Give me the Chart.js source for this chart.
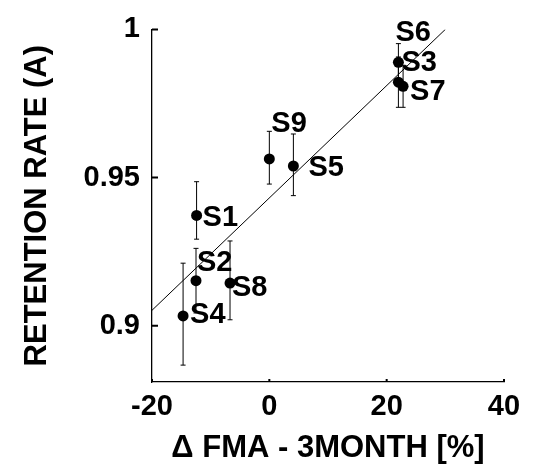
<!doctype html>
<html lang="en">
  <head>
    <meta charset="utf-8">
    <title>Retention rate vs FMA</title>
    <style>
      body { margin: 0; background: #fff; }
    </style>
  </head>
  <body>
    <canvas id="retentionChart" width="533" height="465"></canvas>

    <script src="https://cdn.jsdelivr.net/npm/chart.js"></script>

    <script>
        // Dados dos sujeitos
        const subjects = ['S1', 'S2', 'S3', 'S4', 'S5', 'S6', 'S7', 'S8', 'S9'];
        const fmaChange = [-12.4, -12.5, 22.0, -14.7, 4.1, 22.0, 22.8, -6.7, 0.0];
        const retention = [0.9372, 0.9152, 0.9889, 0.9033, 0.9539, 0.9822, 0.9808, 0.9144, 0.9563];
        const retentionLow = [0.9292, 0.9043, 0.9826, 0.8867, 0.9439, 0.9737, 0.9737, 0.9020, 0.9478];
        const retentionHigh = [0.9486, 0.9261, 0.9952, 0.9211, 0.9647, 0.9907, 0.9879, 0.9286, 0.9656];

        // Reta de regressao
        const fitX = [-20, 30];
        const fitY = [0.9052, 1.0];

        const xTicks = [-20, 0, 20, 40];
        const yTicks = [0.9, 0.95, 1];

        const fontFamily = "'Liberation Sans', Arial, sans-serif";

        // posicao dos rotulos em relacao ao ponto
        const labelOffsets = {
            S1: [6, 0], S2: [1, -20], S3: [3, -2], S4: [7, -3], S5: [15, 0],
            S6: [-3, -52], S7: [7, 3], S8: [2, 2], S9: [2, -37]
        };

        const errorBars = {
            id: 'errorBars',
            beforeDatasetsDraw(chart) {
                const ctx = chart.ctx;
                const xs = chart.scales.x;
                const ys = chart.scales.y;
                ctx.save();
                ctx.strokeStyle = '#000';
                ctx.lineWidth = 1;
                for (let i = 0; i < subjects.length; i++) {
                    const px = xs.getPixelForValue(fmaChange[i]);
                    const lo = ys.getPixelForValue(retentionLow[i]);
                    const hi = ys.getPixelForValue(retentionHigh[i]);
                    ctx.beginPath();
                    ctx.moveTo(px, lo); ctx.lineTo(px, hi);
                    ctx.moveTo(px - 2.5, lo); ctx.lineTo(px + 2.5, lo);
                    ctx.moveTo(px - 2.5, hi); ctx.lineTo(px + 2.5, hi);
                    ctx.stroke();
                }
                ctx.restore();
            }
        };

        const pointLabels = {
            id: 'pointLabels',
            afterDatasetsDraw(chart) {
                const ctx = chart.ctx;
                const xs = chart.scales.x;
                const ys = chart.scales.y;
                ctx.save();
                ctx.fillStyle = '#000';
                ctx.font = 'bold 29px ' + fontFamily;
                ctx.textAlign = 'left';
                ctx.textBaseline = 'alphabetic';
                for (let i = 0; i < subjects.length; i++) {
                    const off = labelOffsets[subjects[i]];
                    const px = xs.getPixelForValue(fmaChange[i]) + off[0];
                    const py = ys.getPixelForValue(retention[i]) + off[1] + 10.5;
                    ctx.fillText(subjects[i], px, py);
                }
                ctx.restore();
            }
        };

        // marcas dos eixos para dentro
        const innerTicks = {
            id: 'innerTicks',
            afterDraw(chart) {
                const ctx = chart.ctx;
                const xs = chart.scales.x;
                const ys = chart.scales.y;
                const area = chart.chartArea;
                ctx.save();
                ctx.strokeStyle = '#000';
                ctx.lineWidth = 2;
                ctx.beginPath();
                yTicks.forEach(v => {
                    const py = ys.getPixelForValue(v);
                    ctx.moveTo(area.left, py); ctx.lineTo(area.left + 6, py);
                });
                xTicks.forEach(v => {
                    const px = xs.getPixelForValue(v);
                    ctx.moveTo(px, area.bottom); ctx.lineTo(px, area.bottom - 3);
                });
                ctx.stroke();
                ctx.restore();
            }
        };

        const retentionChart = new Chart(document.getElementById('retentionChart'), {
            type: 'scatter',
            data: {
                datasets: [{
                    type: 'line',
                    data: fitX.map((x, i) => ({x: x, y: fitY[i]})),
                    borderColor: '#000',
                    borderWidth: 1,
                    pointRadius: 0,
                    fill: false
                }, {
                    data: fmaChange.map((x, i) => ({x: x, y: retention[i]})),
                    backgroundColor: '#000',
                    borderWidth: 0,
                    pointRadius: 5.5
                }]
            },
            options: {
                responsive: false,
                animation: false,
                devicePixelRatio: 1,
                layout: { padding: { top: 25, right: 29, left: 0, bottom: 0 } },
                plugins: {
                    legend: { display: false },
                    tooltip: { enabled: false }
                },
                scales: {
                    x: {
                        type: 'linear',
                        min: -20,
                        max: 40,
                        afterBuildTicks: s => { s.ticks = xTicks.map(v => ({value: v})); },
                        afterFit: s => { s.height = 83; },
                        grid: { display: false, drawTicks: false },
                        border: { display: true, color: '#000', width: 1.3 },
                        ticks: {
                            color: '#000',
                            padding: 8,
                            maxRotation: 0,
                            font: { family: fontFamily, size: 29, weight: 'bold' },
                            callback: v => String(v)
                        },
                        title: {
                            display: true,
                            text: 'Δ FMA - 3MONTH [%]',
                            color: '#000',
                            padding: { top: 0, bottom: 0 },
                            font: { family: fontFamily, size: 31, weight: 'bold', lineHeight: 1.08 }
                        }
                    },
                    y: {
                        type: 'linear',
                        min: 0.881,
                        max: 1,
                        afterBuildTicks: s => { s.ticks = yTicks.map(v => ({value: v})); },
                        afterFit: s => { s.width = 152; },
                        grid: { display: false, drawTicks: false },
                        border: { display: true, color: '#000', width: 1.3 },
                        ticks: {
                            color: '#000',
                            padding: 12,
                            font: { family: fontFamily, size: 29, weight: 'bold' },
                            callback: v => String(v)
                        },
                        title: {
                            display: true,
                            text: 'RETENTION RATE (A)',
                            color: '#000',
                            padding: { top: 19, bottom: 0 },
                            font: { family: fontFamily, size: 31, weight: 'bold' }
                        }
                    }
                }
            },
            plugins: [errorBars, pointLabels, innerTicks]
        });
    </script>
  </body>
</html>
